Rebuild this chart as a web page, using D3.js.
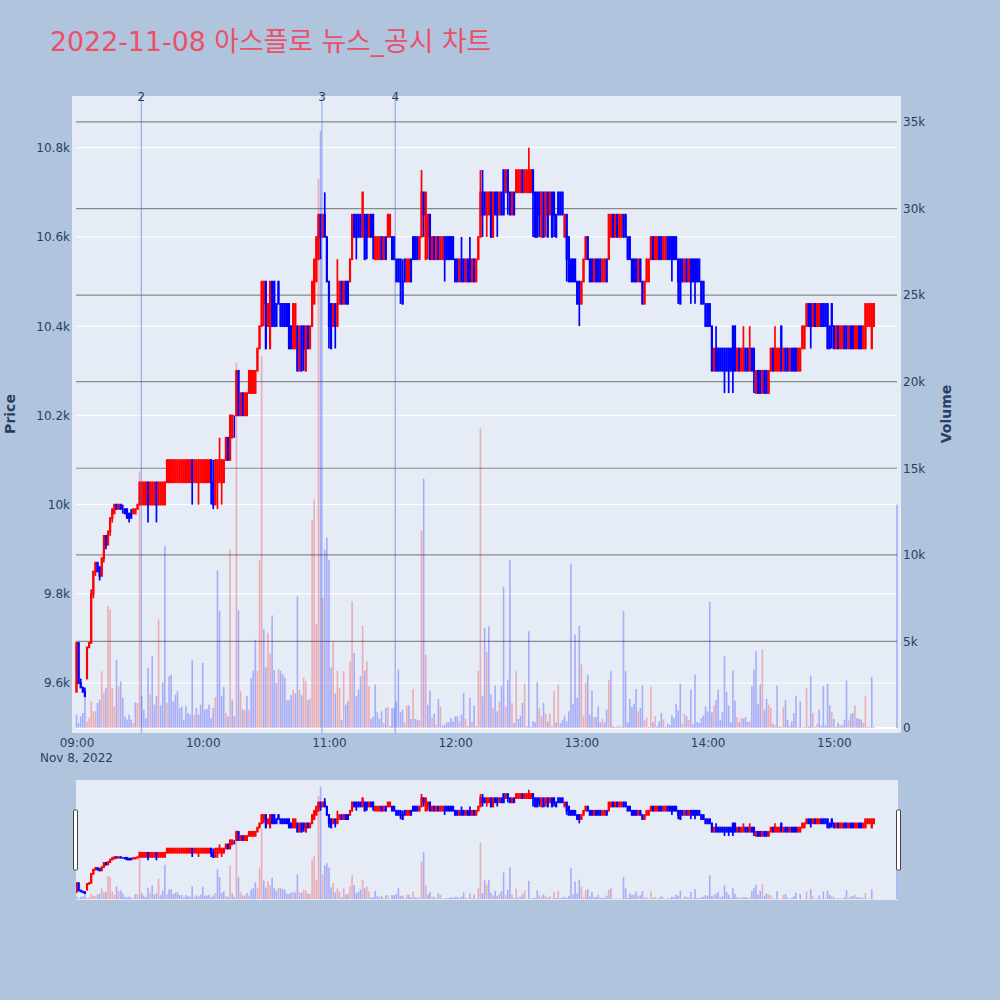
<!DOCTYPE html>
<html><head><meta charset="utf-8">
<script src="https://cdn.jsdelivr.net/npm/d3@7"></script>
<style>body{margin:0;background:#b0c4de;} svg{display:block}</style>
</head><body><svg id="c" width="1000" height="1000"></svg>
<script>
const titleText = "2022-11-08 아스플로 뉴스_공시 차트";
const sessionStart = "2022-11-08 09:00:00";
// one candle per minute from 09:00 (index = minutes after 09:00)
const opens = [
9580,9690,9600,9590,9580,9610,9680,9690,9800,9850,
9870,9860,9840,9880,9930,9910,9940,9970,9980,10000,
9990,10000,9990,9990,9990,9980,9980,9980,9980,9990,
10000,10000,10000,10000,10050,10000,10000,10000,10050,10000,
10000,10000,10000,10050,10050,10050,10050,10050,10050,10050,
10050,10050,10050,10050,10050,10100,10050,10050,10050,10050,
10050,10050,10050,10050,10100,10050,10000,10050,10050,10050,
10050,10100,10150,10100,10150,10200,10200,10300,10200,10250,
10200,10200,10250,10250,10250,10250,10300,10350,10400,10450,
10500,10400,10350,10500,10500,10450,10500,10450,10450,10450,
10450,10450,10400,10350,10350,10400,10300,10400,10400,10300,
10400,10350,10400,10450,10500,10550,10650,10600,10650,10600,
10500,10450,10400,10450,10400,10450,10500,10450,10500,10500,
10500,10550,10650,10650,10650,10650,10600,10650,10650,10600,
10650,10650,10550,10550,10550,10600,10550,10600,10600,10600,
10600,10600,10550,10550,10550,10500,10550,10500,10500,10550,
10600,10600,10600,10550,10600,10700,10550,10600,10650,10550,
10600,10550,10600,10550,10550,10600,10600,10600,10600,10600,
10550,10550,10500,10550,10550,10500,10550,10550,10500,10550,
10500,10550,10600,10700,10700,10650,10650,10700,10600,10700,
10700,10650,10700,10750,10700,10750,10700,10650,10700,10700,
10700,10700,10750,10700,10700,10700,10700,10750,10700,10700,
10700,10600,10700,10650,10700,10650,10700,10700,10650,10700,
10700,10700,10600,10650,10600,10550,10550,10550,10500,10500,
10450,10500,10550,10600,10550,10550,10500,10550,10550,10550,
10500,10500,10550,10550,10600,10650,10600,10650,10600,10600,
10650,10650,10600,10600,10550,10550,10550,10500,10550,10500,
10450,10500,10500,10550,10600,10550,10550,10600,10600,10550,
10550,10600,10600,10600,10600,10600,10550,10550,10550,10500,
10550,10500,10550,10550,10550,10550,10550,10500,10500,10450,
10450,10450,10400,10300,10350,10350,10350,10350,10350,10350,
10350,10350,10400,10400,10300,10350,10300,10300,10350,10350,
10300,10350,10350,10250,10300,10300,10250,10300,10300,10250,
10300,10350,10300,10300,10300,10400,10300,10350,10350,10300,
10350,10350,10350,10300,10300,10350,10350,10400,10450,10450,
10400,10450,10400,10400,10450,10450,10450,10450,10400,10450,
10400,10350,10400,10350,10350,10400,10400,10350,10400,10400,
10350,10350,10400,10400,10350,10350,10400,10400,10350,10400];
const highs = [
9690,9690,9610,9590,9590,9680,9690,9810,9850,9870,
9870,9860,9880,9930,9930,9940,9970,9990,10000,10000,
10000,10000,10000,9990,9990,9980,9990,9990,9990,10000,
10050,10050,10050,10050,10050,10050,10050,10050,10050,10050,
10050,10050,10050,10100,10100,10100,10100,10100,10100,10100,
10100,10100,10100,10100,10100,10100,10100,10100,10100,10100,
10100,10100,10100,10100,10100,10100,10100,10100,10150,10100,
10100,10150,10150,10200,10200,10200,10300,10300,10250,10250,
10250,10250,10300,10300,10300,10300,10350,10400,10500,10500,
10500,10450,10500,10500,10500,10450,10500,10450,10450,10450,
10450,10450,10400,10450,10450,10400,10400,10400,10400,10400,
10400,10400,10500,10550,10600,10650,10650,10650,10700,10600,
10500,10450,10450,10450,10550,10500,10500,10500,10500,10500,
10550,10650,10650,10650,10650,10650,10700,10650,10650,10650,
10650,10650,10600,10600,10600,10600,10600,10600,10650,10650,
10600,10600,10550,10550,10550,10550,10550,10550,10550,10550,
10600,10600,10600,10600,10750,10700,10700,10650,10650,10600,
10600,10600,10600,10600,10600,10600,10600,10600,10600,10600,
10550,10550,10550,10600,10550,10550,10550,10600,10550,10550,
10550,10600,10750,10750,10700,10700,10700,10700,10700,10700,
10700,10700,10700,10750,10750,10750,10700,10700,10700,10750,
10750,10750,10750,10750,10750,10800,10750,10750,10700,10700,
10700,10700,10700,10700,10700,10700,10700,10700,10650,10700,
10700,10700,10650,10650,10600,10550,10550,10550,10500,10500,
10500,10550,10600,10600,10550,10550,10550,10550,10550,10550,
10550,10550,10550,10650,10650,10650,10650,10650,10650,10650,
10650,10650,10600,10600,10550,10550,10550,10550,10550,10500,
10500,10550,10550,10600,10600,10600,10600,10600,10600,10600,
10600,10600,10600,10600,10600,10600,10550,10550,10550,10550,
10550,10550,10550,10550,10550,10550,10550,10500,10500,10450,
10450,10450,10400,10350,10400,10350,10350,10350,10350,10350,
10350,10350,10400,10400,10350,10350,10350,10400,10350,10350,
10400,10350,10350,10300,10300,10300,10300,10300,10300,10300,
10350,10350,10400,10350,10350,10400,10350,10350,10350,10350,
10350,10350,10350,10350,10350,10400,10400,10450,10450,10450,
10450,10450,10450,10450,10450,10450,10450,10450,10400,10450,
10400,10400,10400,10400,10400,10400,10400,10400,10400,10400,
10400,10400,10400,10400,10400,10450,10450,10450,10450,10450];
const lows = [
9580,9600,9590,9580,9570,9610,9680,9690,9790,9840,
9850,9830,9840,9870,9900,9910,9930,9960,9980,9990,
9990,9990,9980,9980,9970,9960,9970,9980,9980,9990,
10000,10000,10000,10000,9960,10000,10000,10000,9960,10000,
10000,10000,10000,10050,10050,10050,10050,10050,10050,10050,
10050,10050,10050,10050,10050,10000,10050,10050,10000,10050,
10050,10050,10050,10050,10000,9990,10000,9990,10050,10000,
10050,10100,10100,10100,10150,10150,10200,10200,10200,10200,
10200,10200,10250,10250,10250,10250,10300,10350,10400,10400,
10350,10400,10350,10400,10400,10400,10450,10400,10400,10400,
10400,10350,10350,10350,10350,10300,10300,10300,10300,10300,
10350,10350,10400,10450,10500,10550,10550,10600,10600,10500,
10350,10350,10400,10350,10400,10450,10450,10450,10450,10450,
10500,10550,10600,10550,10600,10600,10600,10550,10550,10600,
10600,10550,10550,10550,10550,10550,10550,10550,10600,10600,
10550,10550,10500,10500,10450,10450,10500,10500,10500,10500,
10550,10550,10550,10550,10600,10600,10550,10550,10550,10550,
10550,10550,10550,10550,10550,10500,10550,10550,10550,10550,
10500,10500,10500,10500,10500,10500,10500,10500,10500,10500,
10500,10550,10600,10600,10650,10600,10650,10600,10600,10650,
10600,10650,10650,10650,10700,10650,10650,10650,10650,10700,
10700,10700,10700,10700,10700,10700,10700,10600,10600,10600,
10600,10600,10600,10600,10600,10650,10600,10600,10600,10650,
10650,10650,10600,10500,10500,10500,10500,10500,10450,10400,
10450,10500,10550,10550,10500,10500,10500,10500,10500,10500,
10500,10500,10500,10550,10600,10600,10600,10600,10600,10600,
10600,10600,10550,10550,10500,10500,10500,10500,10500,10450,
10450,10500,10500,10550,10550,10550,10550,10550,10550,10550,
10550,10550,10550,10500,10550,10550,10450,10450,10500,10500,
10500,10500,10450,10500,10450,10500,10500,10450,10450,10400,
10400,10400,10300,10300,10300,10300,10300,10300,10250,10300,
10250,10300,10250,10300,10300,10300,10300,10300,10300,10300,
10300,10300,10250,10250,10250,10250,10250,10250,10250,10250,
10300,10300,10300,10300,10300,10300,10300,10300,10300,10300,
10300,10300,10300,10300,10300,10350,10350,10400,10400,10350,
10400,10400,10400,10400,10400,10400,10400,10350,10350,10350,
10350,10350,10350,10350,10350,10350,10350,10350,10350,10350,
10350,10350,10350,10350,10350,10350,10400,10400,10350,10400];
const closes = [
9690,9600,9590,9580,9570,9680,9690,9800,9850,9870,
9850,9840,9880,9930,9910,9940,9970,9990,10000,9990,
10000,9990,9990,9980,9970,9970,9970,9990,9990,10000,
10050,10050,10050,10050,10000,10050,10050,10050,10000,10050,
10050,10050,10050,10100,10100,10100,10100,10100,10100,10100,
10100,10100,10100,10100,10100,10050,10100,10100,10100,10100,
10100,10100,10100,10100,10050,10000,10100,10100,10100,10100,
10100,10150,10100,10200,10200,10200,10300,10200,10250,10200,
10250,10250,10300,10300,10300,10300,10350,10400,10500,10500,
10350,10450,10500,10400,10400,10400,10450,10400,10400,10400,
10400,10350,10350,10450,10450,10300,10400,10300,10350,10400,
10350,10400,10500,10550,10600,10650,10600,10650,10600,10500,
10400,10350,10450,10400,10450,10500,10450,10500,10450,10450,
10550,10650,10600,10600,10600,10600,10700,10550,10600,10650,
10600,10600,10600,10600,10600,10550,10600,10550,10650,10650,
10550,10550,10500,10500,10500,10450,10500,10550,10550,10500,
10550,10550,10550,10600,10700,10650,10700,10650,10550,10600,
10550,10600,10550,10600,10600,10550,10550,10550,10550,10550,
10500,10500,10550,10500,10500,10550,10500,10500,10550,10500,
10550,10600,10700,10650,10650,10700,10700,10600,10700,10650,
10650,10700,10650,10650,10750,10700,10650,10700,10650,10750,
10750,10750,10700,10750,10750,10750,10750,10700,10600,10600,
10650,10700,10600,10700,10600,10700,10600,10650,10600,10650,
10650,10650,10650,10550,10500,10500,10500,10500,10450,10450,
10500,10550,10600,10550,10500,10500,10550,10500,10500,10500,
10550,10550,10500,10650,10650,10600,10650,10600,10650,10650,
10600,10600,10550,10550,10500,10500,10500,10550,10500,10450,
10500,10550,10550,10600,10550,10600,10600,10550,10550,10600,
10600,10550,10550,10550,10550,10550,10500,10450,10500,10550,
10500,10550,10500,10500,10500,10500,10500,10450,10450,10400,
10400,10400,10300,10350,10300,10300,10300,10300,10300,10300,
10300,10300,10300,10300,10350,10300,10350,10350,10300,10300,
10350,10300,10300,10300,10250,10250,10300,10250,10250,10300,
10350,10300,10350,10350,10350,10300,10350,10300,10300,10350,
10300,10300,10300,10350,10350,10400,10400,10450,10400,10400,
10450,10400,10450,10450,10400,10400,10400,10350,10350,10400,
10350,10400,10350,10400,10400,10350,10350,10400,10350,10350,
10400,10400,10350,10350,10400,10450,10450,10450,10450,10450];
const volumes = [
771,289,674,867,1734,385,578,1542,963,963,
1445,1638,3276,2023,2312,7034,6841,2312,1252,3950,
2409,2698,1734,674,482,771,482,289,1484,1445,
14800,1831,1060,578,3469,1927,4143,1349,1831,6263,
1310,2640,10500,1445,2987,3083,1542,1927,2120,1156,
1252,482,1252,867,771,3912,771,1156,771,1349,
3757,1060,1098,1349,578,1156,1792,9100,6745,1869,
2370,867,674,10300,1638,674,21100,6800,2120,1060,
1060,1831,1060,2889,3300,5100,3300,9700,21500,5700,
3500,5500,4300,6500,3350,2600,3400,3300,3100,2900,
1600,1600,1900,2200,2000,7600,2200,1900,2900,2700,
1600,1700,12000,13200,6000,31700,34500,7500,10300,11000,
9700,3500,5000,2000,3300,2300,482,3276,1349,1542,
3854,7323,4336,1831,2216,2987,5916,3314,3854,2409,
520,636,2505,906,520,963,289,1156,1214,96,
1156,1156,1542,3372,906,1060,328,1310,1310,520,
2255,520,482,443,11400,14400,4239,1349,2158,617,
829,193,1676,1214,135,193,328,328,578,385,
674,674,385,771,2023,520,96,1734,385,1291,
96,3314,17300,1831,5781,4413,5877,1927,1156,2447,
963,1542,2409,8151,1252,2794,9700,1445,289,3276,
520,713,1445,2563,96,5588,60,385,328,2640,
1156,674,1445,829,385,829,96,2120,328,2505,
289,482,713,385,963,9500,1407,5396,1734,5916,
3661,674,2640,3083,771,2158,636,636,1252,328,
520,328,1060,2794,3276,96,60,96,135,60,
6744,3276,327,1676,1214,1407,2254,963,1156,2447,
443,578,60,2370,347,674,96,385,867,482,
60,250,154,732,578,1387,1002,2563,250,829,
674,482,2216,193,3083,347,289,578,732,1252,
963,7284,906,1291,1599,2216,443,906,4143,2062,
1291,328,3314,1580,636,347,578,540,636,347,
385,2409,3372,4432,1387,2505,4528,1060,1676,1349,
1156,250,154,2447,96,60,1195,1599,482,154,
385,867,1869,60,1542,58,60,2312,96,3025,
867,60,250,1060,135,2409,154,2563,1310,906,
520,58,289,193,154,482,2736,443,809,867,
1310,578,520,482,289,1869,60,60,2948,60];
// closing single-price auction
const auctionTimes = ["2022-11-08 15:30:00"];
const auctionPrices = [10450];
const auctionVolumes = [12900];
// news / disclosure markers
const newsTimes = ["2022-11-08 09:30:50", "2022-11-08 10:56:40", "2022-11-08 11:31:30"];
const newsLabels = ["2", "3", "4"];
const priceTicks = [9600, 9800, 10000, 10200, 10400, 10600, 10800];
const priceTickLabels = ["9.6k", "9.8k", "10k", "10.2k", "10.4k", "10.6k", "10.8k"];
const volumeTicks = [0, 5000, 10000, 15000, 20000, 25000, 30000, 35000];
const volumeTickLabels = ["0", "5k", "10k", "15k", "20k", "25k", "30k", "35k"];
const timeTicks = ["2022-11-08 09:00:00","2022-11-08 10:00:00","2022-11-08 11:00:00","2022-11-08 12:00:00","2022-11-08 13:00:00","2022-11-08 14:00:00","2022-11-08 15:00:00"];
const rangeEnd = "2022-11-08 15:30:00";

const parse = d3.timeParse("%Y-%m-%d %H:%M:%S");
const t0 = parse(sessionStart);
const candles = opens.map((o, i) => ({t: d3.timeMinute.offset(t0, i), o, h: highs[i], l: lows[i], c: closes[i], v: volumes[i]}));
auctionTimes.forEach((s, i) => candles.push({t: parse(s), o: auctionPrices[i], h: auctionPrices[i], l: auctionPrices[i], c: auctionPrices[i], v: auctionVolumes[i]}));
candles.forEach((d, i) => { d.up = d.c > d.o || (d.c === d.o && i > 0 && d.c > candles[i-1].c); d.vup = i > 0 && d.c > candles[i-1].c; });

const FONT = "'DejaVu Sans', 'Noto Sans CJK KR', sans-serif";
const TXT = "#2a3f5f";
const svg = d3.select("#c");
svg.append("rect").attr("width", 1000).attr("height", 1000).attr("fill", "#b0c4de");

svg.append("text").attr("x", 50).attr("y", 51).attr("font-family", FONT).attr("font-size", 26.8)
  .attr("fill", "#ea5068").text(titleText);

const x = d3.scaleTime().domain([t0, parse(rangeEnd)]).range([76.5, 897]);
const yP = d3.scaleLinear().domain([9488, 10916]).range([733, 96]);
const yV = d3.scaleLinear().domain([-290, 36500]).range([733, 96]);
const yPS = d3.scaleLinear().domain([9488, 10916]).range([900, 780]);
const yVS = d3.scaleLinear().domain([-290, 36500]).range([900, 780]);

const defs = svg.append("defs");
defs.append("clipPath").attr("id", "clipMain").append("rect").attr("x", 72).attr("y", 96).attr("width", 829).attr("height", 637);
defs.append("clipPath").attr("id", "clipSl").append("rect").attr("x", 76).attr("y", 780).attr("width", 822).attr("height", 120);

// main plot background
svg.append("rect").attr("x", 72).attr("y", 96).attr("width", 829).attr("height", 637).attr("fill", "#e5ecf6");

// price grid (white)
svg.append("g").selectAll("line").data(priceTicks).join("line")
  .attr("x1", 76).attr("x2", 897).attr("y1", d => yP(d)).attr("y2", d => yP(d))
  .attr("stroke", "#ffffff").attr("stroke-width", 1);
// volume grid (gray)
svg.append("g").selectAll("line").data(volumeTicks.filter(d => d > 0)).join("line")
  .attr("x1", 76).attr("x2", 897).attr("y1", d => yV(d)).attr("y2", d => yV(d))
  .attr("stroke", "#8a8a8a").attr("stroke-width", 1.2);
svg.append("line").attr("x1", 76).attr("x2", 897).attr("y1", yV(0)).attr("y2", yV(0))
  .attr("stroke", "#ffffff").attr("stroke-width", 2);

function drawCandles(g, ys, bw, lw) {
  const c = g.append("g");
  c.selectAll("line").data(candles).join("line")
    .attr("x1", d => x(d.t)).attr("x2", d => x(d.t))
    .attr("y1", d => ys(d.h)).attr("y2", d => ys(d.l))
    .attr("stroke", d => d.up ? "#ff0000" : "#0000ff").attr("stroke-width", lw);
  c.selectAll("rect").data(candles).join("rect")
    .attr("x", d => x(d.t) - bw / 2).attr("width", bw)
    .attr("y", d => ys(Math.max(d.o, d.c)))
    .attr("height", d => Math.abs(ys(d.o) - ys(d.c)))
    .attr("fill", d => d.up ? "#ff0000" : "#0000ff")
    .attr("stroke", d => d.up ? "#ff0000" : "#0000ff").attr("stroke-width", lw);
}
function drawVolume(g, ys) {
  g.append("g").selectAll("rect").data(candles).join("rect")
    .attr("x", d => x(d.t) - 0.8).attr("width", 1.6)
    .attr("y", d => ys(d.v)).attr("height", d => ys(0) - ys(d.v))
    .attr("fill", d => d.vup ? "#ff0000" : "#0000ff").attr("fill-opacity", 0.27);
}

const main = svg.append("g").attr("clip-path", "url(#clipMain)");
drawCandles(main, yP, 0.5, 1.7);
drawVolume(main, yV);

// news lines
const news = svg.append("g");
news.selectAll("line").data(newsTimes).join("line")
  .attr("x1", d => x(parse(d))).attr("x2", d => x(parse(d))).attr("y1", 96).attr("y2", 733)
  .attr("stroke", "royalblue").attr("stroke-opacity", 0.45).attr("stroke-width", 1.3);
news.selectAll("text").data(newsTimes).join("text")
  .attr("x", d => x(parse(d))).attr("y", 101).attr("text-anchor", "middle")
  .attr("font-family", FONT).attr("font-size", 12).attr("fill", TXT)
  .text((d, i) => newsLabels[i]);

// axes
function styleAxis(g) {
  g.select(".domain").remove();
  g.selectAll(".tick line").remove();
  g.attr("font-family", FONT).attr("font-size", 12);
  g.selectAll("text").attr("fill", TXT);
}
svg.append("g").attr("transform", "translate(72,0)")
  .call(d3.axisLeft(yP).tickValues(priceTicks).tickFormat((d, i) => priceTickLabels[i]).tickSize(0).tickPadding(2))
  .call(styleAxis);
svg.append("g").attr("transform", "translate(901,0)")
  .call(d3.axisRight(yV).tickValues(volumeTicks).tickFormat((d, i) => volumeTickLabels[i]).tickSize(0).tickPadding(2))
  .call(styleAxis);
svg.append("g").attr("transform", "translate(0,733)")
  .call(d3.axisBottom(x).tickValues(timeTicks.map(parse)).tickFormat(d3.timeFormat("%H:%M")).tickSize(0).tickPadding(5))
  .call(styleAxis);
svg.append("text").attr("x", x(parse(timeTicks[0]))).attr("y", 762).attr("text-anchor", "middle")
  .attr("font-family", FONT).attr("font-size", 12).attr("fill", TXT).text("Nov 8, 2022");

svg.append("text").attr("transform", "translate(10,414) rotate(-90)").attr("dy", "0.35em")
  .attr("text-anchor", "middle").attr("font-family", FONT).attr("font-size", 14).attr("font-weight", "bold")
  .attr("fill", TXT).text("Price");
svg.append("text").attr("transform", "translate(946,414) rotate(-90)").attr("dy", "0.35em")
  .attr("text-anchor", "middle").attr("font-family", FONT).attr("font-size", 14).attr("font-weight", "bold")
  .attr("fill", TXT).text("Volume");

// range slider
svg.append("rect").attr("x", 76).attr("y", 780).attr("width", 822).attr("height", 120).attr("fill", "#e5ecf6");
const sl = svg.append("g").attr("clip-path", "url(#clipSl)");
drawCandles(sl, yPS, 0.5, 1.7);
drawVolume(sl, yVS);
[73.5, 896.5].forEach(hx => {
  svg.append("rect").attr("x", hx).attr("y", 810).attr("width", 4).attr("height", 60).attr("rx", 1)
    .attr("fill", "#ffffff").attr("stroke", "#444").attr("stroke-width", 1);
});
</script></body></html>
